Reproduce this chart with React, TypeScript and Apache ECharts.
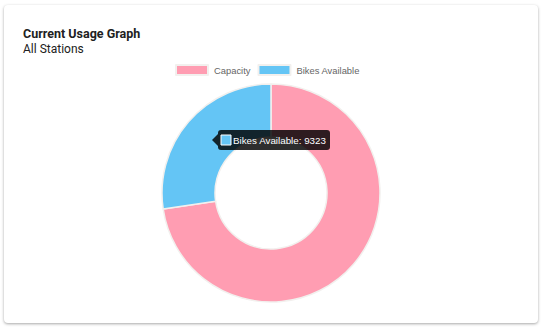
import React, { useEffect, useRef } from "react";
import * as echarts from "echarts";

const categories = ["Capacity", "Bikes Available"];
const values = [24790, 9323];
const colors = ["#ff9db2", "#64c5f5"];
const titleText = "Current Usage Graph";
const subtitleText = "All Stations";
const tooltipIndex = 1;

export default function App() {
  const ref = useRef<HTMLDivElement>(null);
  useEffect(() => {
    if (!ref.current) return;
    const chart = echarts.init(ref.current, null, { renderer: "svg" });
    const tipText = `${categories[tooltipIndex]}: ${values[tooltipIndex]}`;
    chart.setOption({
      animation: false,
      graphic: [
        {
          type: "text",
          left: 23,
          top: 27,
          style: { text: titleText, font: "bold 12.5px Roboto", fill: "#212121" },
        },
        {
          type: "text",
          left: 23,
          top: 43,
          style: { text: subtitleText, font: "12px Roboto", fill: "#212121" },
        },
        { type: "polygon", z: 100, shape: { points: [[218, 134], [212, 140], [218, 146]] }, style: { fill: "rgba(0,0,0,0.82)" } },
        { type: "rect", z: 100, shape: { x: 218, y: 130, width: 112, height: 20, r: 3 }, style: { fill: "rgba(0,0,0,0.82)" } },
        { type: "rect", z: 101, shape: { x: 221, y: 135, width: 10, height: 10 }, style: { fill: colors[tooltipIndex], stroke: "#fff", lineWidth: 1 } },
        {
          type: "text",
          z: 102,
          x: 233,
          y: 140.5,
          style: { text: tipText, font: "9.8px 'Liberation Sans'", fill: "#fff", verticalAlign: "middle", align: "left" },
        },
      ],
      legend: {
        left: 170,
        top: 59,
        itemWidth: 32,
        itemHeight: 10,
        itemGap: 7,
        icon: "rect",
        selectedMode: false,
        textStyle: { fontFamily: "Liberation Sans", fontSize: 9.4, color: "#666", padding: [0, 0, 0, 1] },
        data: categories,
      },
      series: [
        {
          type: "pie",
          center: [271, 193],
          radius: [56, 109],
          startAngle: 90,
          clockwise: true,
          silent: true,
          z: 2,
          label: { show: false },
          labelLine: { show: false },
          itemStyle: { borderColor: "#f2f0ee", borderWidth: 1.5 },
          data: categories.map((c, i) => ({ name: c, value: values[i], itemStyle: { color: colors[i] } })),
        },
      ],
    });
    return () => chart.dispose();
  }, []);
  return (
    <div style={{ position: "fixed", left: 0, top: 0, width: 549, height: 328, background: "#fff" }}>
      <div
        style={{
          position: "absolute",
          left: 4,
          top: 5,
          width: 534,
          height: 318,
          background: "#fff",
          borderRadius: 4,
          boxShadow: "0 1px 3px rgba(0,0,0,0.35)",
        }}
      />
      <div ref={ref} style={{ position: "absolute", left: 0, top: 0, width: 549, height: 328 }} />
    </div>
  );
}
